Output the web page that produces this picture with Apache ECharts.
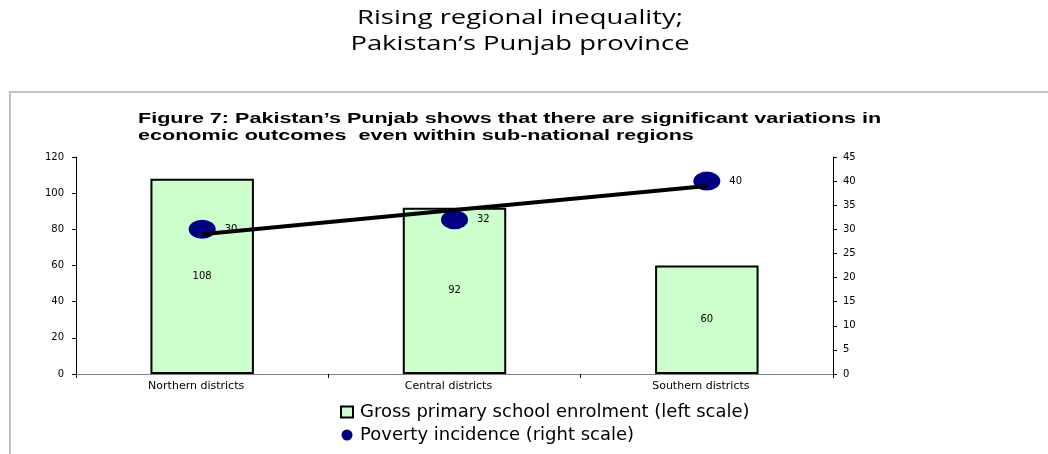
<!DOCTYPE html>
<html>
<head>
<meta charset="utf-8">
<script src="https://cdn.jsdelivr.net/npm/echarts@6/dist/echarts.min.js"></script>
<style>html,body{margin:0;padding:0;background:#fff;}#c{width:1048px;height:454px;}</style>
</head>
<body>
<div id="c"></div>
<script>
const categories = ['Northern districts', 'Central districts', 'Southern districts'];
const enrolment = [108, 92, 60];
const poverty = [30, 32, 40];
const trendValues = [29, 34, 39];
const leftTicks = { min: 0, max: 120, interval: 20 };
const rightTicks = { min: 0, max: 45, interval: 5 };
const mainTitle = 'Rising regional inequality;\nPakistan\u2019s Punjab province';
const subTitle = 'Figure 7: Pakistan\u2019s Punjab shows that there are significant variations in\neconomic outcomes  even within sub-national regions';

const chart = echarts.init(document.getElementById('c'));
chart.setOption({
  animation: false,
  backgroundColor: '#fff',
  graphic: [
    { type: 'rect', shape: { x: 10, y: 92, width: 1060, height: 400 }, style: { fill: 'none', stroke: '#c0c0c0', lineWidth: 2 }, silent: true },
    { type: 'text', x: 520, y: 5, scaleX: 1.37, silent: true,
      style: { text: mainTitle, fill: '#000', font: '20px "Open Sans"', align: 'center', verticalAlign: 'top', lineHeight: 26 } },
    { type: 'text', x: 138, y: 111, scaleX: 1.54, silent: true,
      style: { text: subTitle, fill: '#000', font: 'bold 14px "Liberation Sans"', align: 'left', verticalAlign: 'top', lineHeight: 17 } }
  ],
  legend: {
    data: [
      { name: 'Gross primary school enrolment (left scale)', icon: 'rect' },
      { name: 'Poverty incidence (right scale)', icon: 'circle' }
    ],
    orient: 'vertical', left: 335, top: 398, itemGap: 5,
    itemWidth: 12, itemHeight: 11,
    textStyle: { fontFamily: 'DejaVu Sans', fontSize: 18, color: '#000', padding: [0, 0, 0, 2] }
  },
  grid: { left: 76, right: 215, top: 157, bottom: 80 },
  xAxis: {
    type: 'category', data: categories,
    axisLine: { lineStyle: { color: '#808080', width: 1 } },
    axisTick: { show: true, length: 4, lineStyle: { color: '#000' } },
    axisLabel: { fontFamily: 'DejaVu Sans', fontSize: 11, color: '#000', margin: 7, padding: [0, 12, 0, 0] }
  },
  yAxis: [
    {
      type: 'value', min: leftTicks.min, max: leftTicks.max, interval: leftTicks.interval,
      axisLine: { show: true, lineStyle: { color: '#000' } },
      axisTick: { show: true, length: 4, lineStyle: { color: '#000' } },
      splitLine: { show: false },
      axisLabel: { fontFamily: 'DejaVu Sans', fontSize: 10, color: '#000', margin: 12 }
    },
    {
      type: 'value', min: rightTicks.min, max: rightTicks.max, interval: rightTicks.interval,
      position: 'right',
      axisLine: { show: true, lineStyle: { color: '#000' } },
      axisTick: { show: true, length: 4, lineStyle: { color: '#000' } },
      splitLine: { show: false },
      axisLabel: { fontFamily: 'DejaVu Sans', fontSize: 10, color: '#000', margin: 10 }
    }
  ],
  series: [
    {
      name: 'Gross primary school enrolment (left scale)',
      type: 'bar', data: enrolment, yAxisIndex: 0, barWidth: '41%',
      itemStyle: { color: '#CCFFCC', borderColor: '#000', borderWidth: 2 },
      label: { show: true, position: 'inside', fontFamily: 'DejaVu Sans', fontSize: 10, color: '#000' },
      z: 2
    },
    {
      name: 'Poverty incidence (right scale)',
      type: 'scatter', data: poverty, yAxisIndex: 1,
      symbol: 'circle', symbolSize: [27, 19],
      itemStyle: { color: '#000080', opacity: 1 },
      label: { show: true, position: 'right', distance: 9, fontFamily: 'DejaVu Sans', fontSize: 10, color: '#000' },
      z: 3
    },
    {
      name: 'trend', type: 'line', data: trendValues, yAxisIndex: 1,
      symbol: 'none', lineStyle: { color: '#000', width: 4 },
      z: 4, silent: true
    }
  ]
});
</script>
</body>
</html>
